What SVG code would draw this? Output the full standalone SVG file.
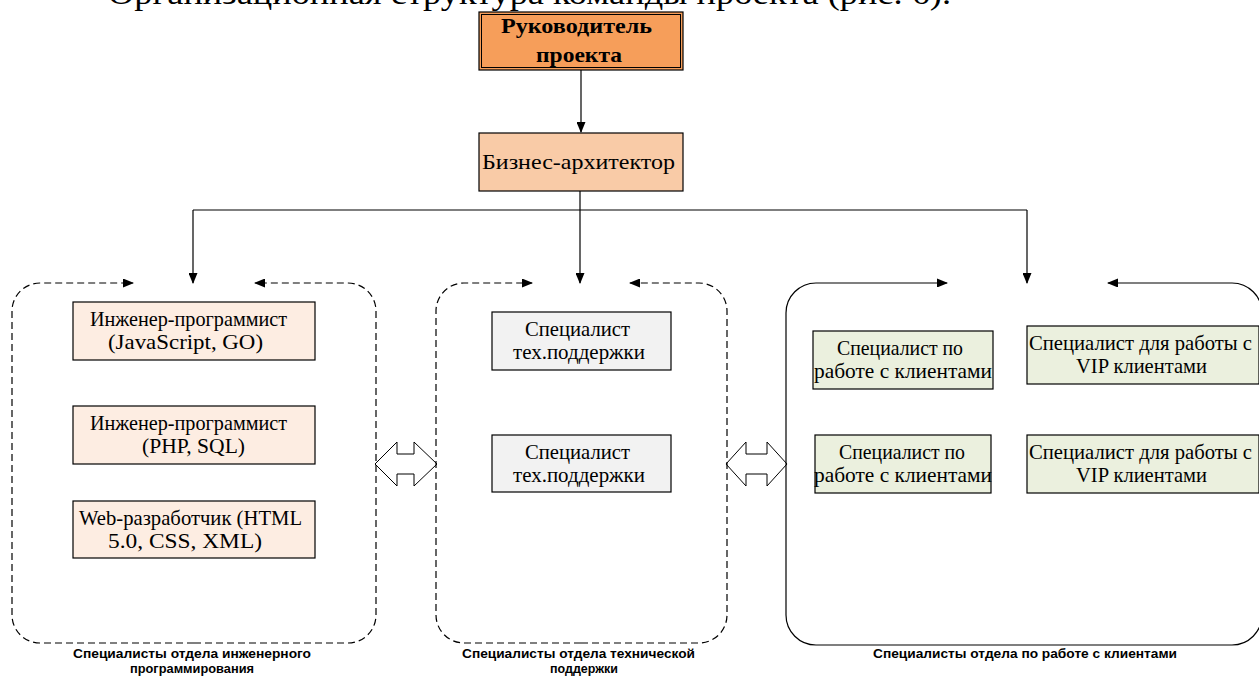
<svg xmlns="http://www.w3.org/2000/svg" width="1259" height="677" viewBox="0 0 1259 677">
<style>
.t{font-family:"Liberation Serif","Times New Roman",serif;font-size:21px;fill:#000;text-anchor:middle}
.lbl{font-family:"Liberation Sans",Arial,sans-serif;font-size:13.5px;font-weight:bold;fill:#000;text-anchor:middle}
.box{stroke:#000;stroke-width:1.2}
.conn{stroke:#000;stroke-width:1.2;fill:none}
.dash{stroke:#000;stroke-width:1.2;fill:none;stroke-dasharray:7 4}
.solid{stroke:#000;stroke-width:1.2;fill:none}
.blk{fill:#fff;stroke:#000;stroke-width:1}
</style>
<defs>
<marker id="ah" markerUnits="userSpaceOnUse" markerWidth="11" markerHeight="9" refX="10" refY="4.5" orient="auto">
<path d="M0,0 L11,4.5 L0,9 z" fill="#000"/>
</marker>
</defs>
<rect width="1259" height="677" fill="#fff"/>
<text x="108" y="4" font-family="'Liberation Serif','Times New Roman',serif" font-size="32" textLength="843" lengthAdjust="spacingAndGlyphs">Организационная структура команды проекта (рис. 6).</text>

<g id="connectors">
<line class="conn" x1="581" y1="70" x2="581" y2="132" marker-end="url(#ah)"/>
<line class="conn" x1="580" y1="191" x2="580" y2="210"/>
<line class="conn" x1="193" y1="210" x2="1027" y2="210"/>
<line class="conn" x1="193" y1="210" x2="193" y2="283" marker-end="url(#ah)"/>
<line class="conn" x1="580" y1="210" x2="580" y2="283" marker-end="url(#ah)"/>
<line class="conn" x1="1027" y1="210" x2="1027" y2="283" marker-end="url(#ah)"/>
<polygon class="blk" points="375,464 397,442 397,454 414,454 414,442 437,464 414,486 414,474 397,474 397,486"/>
<polygon class="blk" points="726,464 746,442 746,454 767,454 767,442 787,464 767,486 767,474 746,474 746,486"/>
</g>

<g id="group-engineering">
<path class="dash" d="M194,643 L40,643 A28,28 0 0 1 12,615 L12,311 A28,28 0 0 1 40,283 L133,283" marker-end="url(#ah)"/>
<path class="dash" d="M194,643 L348,643 A28,28 0 0 0 376,615 L376,311 A28,28 0 0 0 348,283 L255,283" marker-end="url(#ah)"/>
<text class="lbl" x="192" y="658" textLength="238" lengthAdjust="spacingAndGlyphs">Специалисты отдела инженерного</text>
<text class="lbl" x="192" y="673" textLength="124" lengthAdjust="spacingAndGlyphs">программирования</text>
</g>

<g id="group-support">
<path class="dash" d="M581,643 L464,643 A28,28 0 0 1 436,615 L436,311 A28,28 0 0 1 464,283 L532,283" marker-end="url(#ah)"/>
<path class="dash" d="M581,643 L699,643 A28,28 0 0 0 727,615 L727,311 A28,28 0 0 0 699,283 L630,283" marker-end="url(#ah)"/>
<text class="lbl" x="578.5" y="658" textLength="233" lengthAdjust="spacingAndGlyphs">Специалисты отдела технической</text>
<text class="lbl" x="584" y="673" textLength="68" lengthAdjust="spacingAndGlyphs">поддержки</text>
</g>

<g id="group-clients">
<path class="solid" d="M1025,645 L816,645 A30,30 0 0 1 786,615 L786,313 A30,30 0 0 1 816,283 L947,283" marker-end="url(#ah)"/>
<path class="solid" d="M1025,645 L1232,645 A30,30 0 0 0 1262,615 L1262,313 A30,30 0 0 0 1232,283 L1108,283" marker-end="url(#ah)"/>
<text class="lbl" x="1025" y="658" textLength="304" lengthAdjust="spacingAndGlyphs">Специалисты отдела по работе с клиентами</text>
</g>

<g id="node-manager">
<rect x="479" y="12" width="204" height="58" fill="#F69E5A" stroke="#000" stroke-width="1.2"/>
<rect x="481.5" y="14.5" width="199" height="53" fill="none" stroke="#000" stroke-width="1"/>
<text class="t" x="576.5" y="33" font-weight="bold" font-size="24" textLength="151" lengthAdjust="spacingAndGlyphs">Руководитель</text>
<text class="t" x="579" y="62" font-weight="bold" font-size="24" textLength="86" lengthAdjust="spacingAndGlyphs">проекта</text>
</g>

<g id="node-architect">
<rect class="box" x="479" y="133" width="204" height="58" fill="#F9CBA7"/>
<text class="t" x="578.5" y="169" font-size="23" textLength="193" lengthAdjust="spacingAndGlyphs">Бизнес-архитектор</text>
</g>

<g id="node-eng1">
<rect class="box" x="73" y="302" width="242" height="58" fill="#FDEDE2"/>
<text class="t" x="188.5" y="326" textLength="197" lengthAdjust="spacingAndGlyphs">Инженер-программист</text>
<text class="t" x="185.5" y="349" textLength="155" lengthAdjust="spacingAndGlyphs">(JavaScript, GO)</text>
</g>
<g id="node-eng2">
<rect class="box" x="73" y="406" width="242" height="58" fill="#FDEDE2"/>
<text class="t" x="188.5" y="430" textLength="197" lengthAdjust="spacingAndGlyphs">Инженер-программист</text>
<text class="t" x="193.5" y="453" textLength="103" lengthAdjust="spacingAndGlyphs">(PHP, SQL)</text>
</g>
<g id="node-eng3">
<rect class="box" x="73" y="501" width="242" height="57" fill="#FDEDE2"/>
<text class="t" x="190.5" y="525" textLength="223" lengthAdjust="spacingAndGlyphs">Web-разработчик (HTML</text>
<text class="t" x="185" y="548" textLength="154" lengthAdjust="spacingAndGlyphs">5.0, CSS, XML)</text>
</g>

<g id="node-sup1">
<rect class="box" x="492" y="312" width="179" height="58" fill="#F2F2F2"/>
<text class="t" x="577.5" y="336" textLength="105" lengthAdjust="spacingAndGlyphs">Специалист</text>
<text class="t" x="579" y="359" textLength="132" lengthAdjust="spacingAndGlyphs">тех.поддержки</text>
</g>
<g id="node-sup2">
<rect class="box" x="492" y="435" width="179" height="57" fill="#F2F2F2"/>
<text class="t" x="577.5" y="459" textLength="105" lengthAdjust="spacingAndGlyphs">Специалист</text>
<text class="t" x="579" y="482" textLength="132" lengthAdjust="spacingAndGlyphs">тех.поддержки</text>
</g>

<g id="node-cl1">
<rect class="box" x="813" y="331" width="180" height="58" fill="#EBF0DE"/>
<text class="t" x="900" y="355" textLength="126" lengthAdjust="spacingAndGlyphs">Специалист по</text>
<text class="t" x="903" y="378" textLength="178" lengthAdjust="spacingAndGlyphs">работе с клиентами</text>
</g>
<g id="node-vip1">
<rect class="box" x="1027" y="326" width="232" height="58" fill="#EBF0DE"/>
<text class="t" x="1140.5" y="350" textLength="223" lengthAdjust="spacingAndGlyphs">Специалист для работы с</text>
<text class="t" x="1141.5" y="373" textLength="131" lengthAdjust="spacingAndGlyphs">VIP клиентами</text>
</g>
<g id="node-cl2">
<rect class="box" x="815" y="435" width="176" height="58" fill="#EBF0DE"/>
<text class="t" x="902" y="459" textLength="126" lengthAdjust="spacingAndGlyphs">Специалист по</text>
<text class="t" x="903" y="482" textLength="178" lengthAdjust="spacingAndGlyphs">работе с клиентами</text>
</g>
<g id="node-vip2">
<rect class="box" x="1027" y="435" width="232" height="58" fill="#EBF0DE"/>
<text class="t" x="1140.5" y="459" textLength="223" lengthAdjust="spacingAndGlyphs">Специалист для работы с</text>
<text class="t" x="1141.5" y="482" textLength="131" lengthAdjust="spacingAndGlyphs">VIP клиентами</text>
</g>
</svg>
